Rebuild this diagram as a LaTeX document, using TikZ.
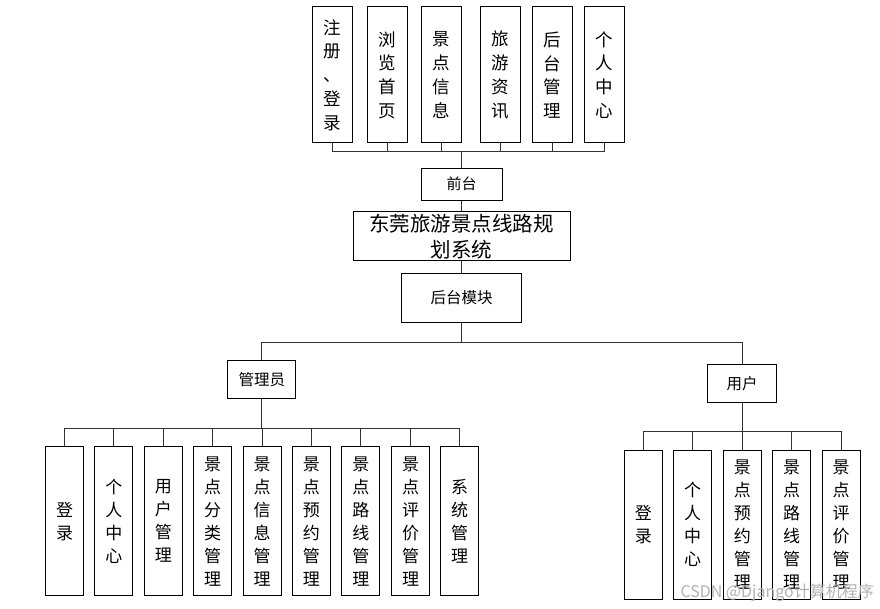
\documentclass[tikz,border=0pt]{standalone}
\usepackage{fontspec}
\setmainfont{Noto Sans CJK SC}
\usepackage{tikz}
\usetikzlibrary{calc}

\tikzset{
    box/.style={draw, line width=1pt, inner sep=0pt, align=center},
    topbox/.style={box, minimum width=40pt, minimum height=136pt, font=\fontsize{17.5}{23.7}\selectfont},
    subbox/.style={box, minimum width=38pt, minimum height=149pt, font=\fontsize{17}{23}\selectfont},
    link/.style={line width=1pt, draw=black!80}
}

\begin{document}
\begin{tikzpicture}[x=1pt, y=-1pt]
        \useasboundingbox (0,0) rectangle (880,609);
        \fill[white] (0,0) rectangle (880,609);

        % top row
        \node [topbox] (t1) at (332.7,75) {注\\册\\、\\登\\录};
        \node [topbox] (t2) at (387,75) {浏\\览\\首\\页};
        \node [topbox] (t3) at (441.7,75) {景\\点\\信\\息};
        \node [topbox] (t4) at (500,75) {旅\\游\\资\\讯};
        \node [topbox] (t5) at (552.3,75) {后\\台\\管\\理};
        \node [topbox] (t6) at (604.3,75) {个\\人\\中\\心};

        \node [box, minimum width=81pt, minimum height=32pt, font=\fontsize{15}{18}\selectfont] (qt) at (461.7,184.2) {前台};
        \node [box, minimum width=217pt, minimum height=49pt, font=\fontsize{20.5}{26}\selectfont] (sys) at (461.7,236.4) {东莞旅游景点线路规\\划系统};
        \node [box, minimum width=120pt, minimum height=49pt, font=\fontsize{15.5}{18}\selectfont] (ht) at (461.7,298) {后台模块};

        \node [box, minimum width=68pt, minimum height=38pt, font=\fontsize{15.5}{18}\selectfont] (adm) at (261.8,379.9) {管理员};
        \node [box, minimum width=69pt, minimum height=38pt, font=\fontsize{15.5}{18}\selectfont] (usr) at (742,383.5) {用户};

        % admin children
        \node [subbox] (a1) at (64.5,521.2) {登\\录};
        \node [subbox] (a2) at (113.8,521.2) {个\\人\\中\\心};
        \node [subbox] (a3) at (163.3,521.2) {用\\户\\管\\理};
        \node [subbox] (a4) at (212.5,521.2) {景\\点\\分\\类\\管\\理};
        \node [subbox] (a5) at (262,521.2) {景\\点\\信\\息\\管\\理};
        \node [subbox] (a6) at (311.3,521.2) {景\\点\\预\\约\\管\\理};
        \node [subbox] (a7) at (360.8,521.2) {景\\点\\路\\线\\管\\理};
        \node [subbox] (a8) at (410.5,521.2) {景\\点\\评\\价\\管\\理};
        \node [subbox] (a9) at (459.7,521.2) {系\\统\\管\\理};

        % user children
        \node [subbox] (u1) at (643.3,524.7) {登\\录};
        \node [subbox] (u2) at (692.7,524.7) {个\\人\\中\\心};
        \node [subbox] (u3) at (742.3,524.7) {景\\点\\预\\约\\管\\理};
        \node [subbox] (u4) at (791.7,524.7) {景\\点\\路\\线\\管\\理};
        \node [subbox] (u5) at (841.2,524.7) {景\\点\\评\\价\\管\\理};

        % connectors
        \draw [link] (qt.north) -- ++(0,-16.6) -| (t1.south);
        \draw [link] (qt.north) -- ++(0,-16.6) -| (t2.south);
        \draw [link] (qt.north) -- ++(0,-16.6) -| (t3.south);
        \draw [link] (qt.north) -- ++(0,-16.6) -| (t4.south);
        \draw [link] (qt.north) -- ++(0,-16.6) -| (t5.south);
        \draw [link] (qt.north) -- ++(0,-16.6) -| (t6.south);

        \draw [link] (qt.south) -- (sys.north);
        \draw [link] (sys.south) -- (ht.north);

        \draw [link] (ht.south) -- ++(0,19) -| (adm.north);
        \draw [link] (ht.south) -- ++(0,19) -| (usr.north);

        \draw [link] (adm.south) -- ++(0,28.7) -| (a1.north);
        \draw [link] (adm.south) -- ++(0,28.7) -| (a2.north);
        \draw [link] (adm.south) -- ++(0,28.7) -| (a3.north);
        \draw [link] (adm.south) -- ++(0,28.7) -| (a4.north);
        \draw [link] (adm.south) -- ++(0,28.7) -| (a5.north);
        \draw [link] (adm.south) -- ++(0,28.7) -| (a6.north);
        \draw [link] (adm.south) -- ++(0,28.7) -| (a7.north);
        \draw [link] (adm.south) -- ++(0,28.7) -| (a8.north);
        \draw [link] (adm.south) -- ++(0,28.7) -| (a9.north);

        \draw [link] (usr.south) -- ++(0,28.3) -| (u1.north);
        \draw [link] (usr.south) -- ++(0,28.3) -| (u2.north);
        \draw [link] (usr.south) -- ++(0,28.3) -| (u3.north);
        \draw [link] (usr.south) -- ++(0,28.3) -| (u4.north);
        \draw [link] (usr.south) -- ++(0,28.3) -| (u5.north);

        \node [anchor=west, text=black!30, font=\fontsize{16}{18}\selectfont] (wm) at (677,593) {CSDN @Django计算机程序};
    \end{tikzpicture}
\end{document}
